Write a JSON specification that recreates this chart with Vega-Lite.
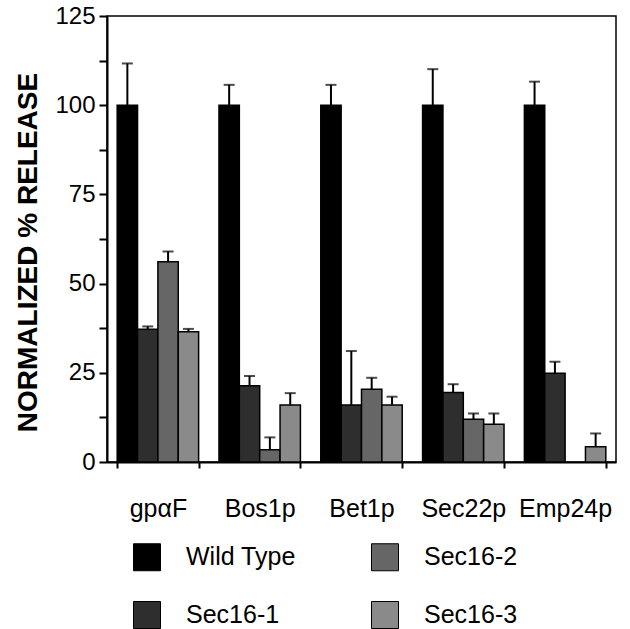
{
  "$schema": "https://vega.github.io/schema/vega-lite/v6.json",
  "width": 509,
  "height": 446,
  "autosize": {"type": "none"},
  "padding": {"left": 107, "top": 16, "right": 14, "bottom": 167},
  "background": "white",
  "config": {
    "font": "Liberation Sans",
    "view": {"stroke": "black", "strokeWidth": 1.5},
    "axis": {"grid": false, "domainColor": "black", "tickColor": "black", "labelColor": "black", "titleColor": "black", "domainWidth": 2, "tickWidth": 2}
  },
  "data": {
    "values": [
      {"protein": "gpαF", "strain": "Wild Type", "value": 100, "err": 111.7},
      {"protein": "gpαF", "strain": "Sec16-1", "value": 37.2, "err": 38},
      {"protein": "gpαF", "strain": "Sec16-2", "value": 56.1, "err": 59},
      {"protein": "gpαF", "strain": "Sec16-3", "value": 36.5, "err": 37.3},
      {"protein": "Bos1p", "strain": "Wild Type", "value": 100, "err": 105.7},
      {"protein": "Bos1p", "strain": "Sec16-1", "value": 21.4, "err": 24.1},
      {"protein": "Bos1p", "strain": "Sec16-2", "value": 3.4, "err": 6.9},
      {"protein": "Bos1p", "strain": "Sec16-3", "value": 16, "err": 19.3},
      {"protein": "Bet1p", "strain": "Wild Type", "value": 100, "err": 105.7},
      {"protein": "Bet1p", "strain": "Sec16-1", "value": 16, "err": 31.1},
      {"protein": "Bet1p", "strain": "Sec16-2", "value": 20.4, "err": 23.6},
      {"protein": "Bet1p", "strain": "Sec16-3", "value": 16, "err": 18.3},
      {"protein": "Sec22p", "strain": "Wild Type", "value": 100, "err": 110.1},
      {"protein": "Sec22p", "strain": "Sec16-1", "value": 19.5, "err": 21.8},
      {"protein": "Sec22p", "strain": "Sec16-2", "value": 12, "err": 13.6},
      {"protein": "Sec22p", "strain": "Sec16-3", "value": 10.6, "err": 13.6},
      {"protein": "Emp24p", "strain": "Wild Type", "value": 100, "err": 106.6},
      {"protein": "Emp24p", "strain": "Sec16-1", "value": 24.9, "err": 28.1},
      {"protein": "Emp24p", "strain": "Sec16-3", "value": 4.3, "err": 8}
    ]
  },
  "encoding": {
    "x": {
      "field": "protein", "type": "nominal",
      "sort": ["gpαF", "Bos1p", "Bet1p", "Sec22p", "Emp24p"],
      "scale": {"paddingInner": 0.2, "paddingOuter": 0.1},
      "axis": {"title": null, "labelAngle": 0, "tickBand": "extent", "labelFontSize": 25, "labelPadding": 28, "tickSize": 6}
    },
    "xOffset": {
      "field": "strain", "type": "nominal",
      "sort": ["Wild Type", "Sec16-1", "Sec16-2", "Sec16-3"],
      "scale": {"paddingInner": 0, "paddingOuter": 0}
    }
  },
  "layer": [
    {
      "mark": {"type": "bar", "stroke": "black", "strokeWidth": 1.5},
      "encoding": {
        "y": {
          "field": "value", "type": "quantitative",
          "scale": {"domain": [0, 125], "nice": false},
          "axis": {
            "title": "NORMALIZED % RELEASE", "titleFontSize": 28, "titleFontWeight": "bold", "titlePadding": 12, "titleY": 236,
            "values": [0, 12.5, 25, 37.5, 50, 62.5, 75, 87.5, 100, 112.5, 125],
            "labelExpr": "datum.value % 25 == 0 ? datum.label : ''",
            "labelFontSize": 24, "tickSize": 8, "labelPadding": 4
          }
        },
        "fill": {
          "field": "strain", "type": "nominal",
          "scale": {"domain": ["Wild Type", "Sec16-1", "Sec16-2", "Sec16-3"], "range": ["#000000", "#2e2e2e", "#666666", "#8a8a8a"]},
          "legend": {
            "title": null, "orient": "none", "legendX": 26, "legendY": 527, "columns": 2,
            "symbolType": "square", "symbolSize": 729, "symbolStrokeColor": "black", "symbolStrokeWidth": 1,
            "labelFontSize": 25, "labelOffset": 25, "columnPadding": 73, "rowPadding": 26, "padding": 0, "labelColor": "black"
          }
        }
      }
    },
    {
      "mark": {"type": "rule", "strokeWidth": 2, "color": "black"},
      "encoding": {
        "y": {"field": "value", "type": "quantitative", "title": "NORMALIZED % RELEASE"},
        "y2": {"field": "err"}
      }
    },
    {
      "mark": {"type": "tick", "color": "black", "size": 11, "thickness": 2},
      "encoding": {
        "y": {"field": "err", "type": "quantitative", "title": "NORMALIZED % RELEASE"}
      }
    }
  ]
}
